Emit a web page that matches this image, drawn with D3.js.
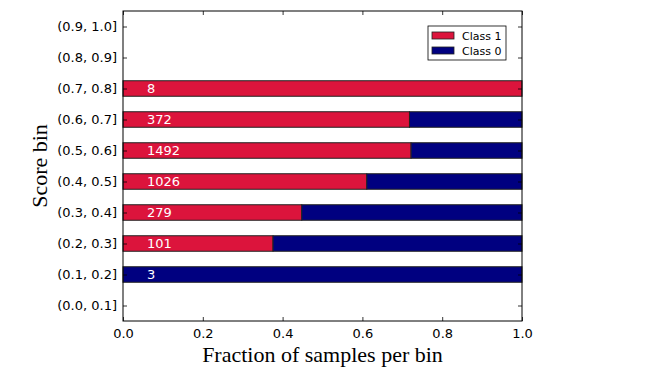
<!DOCTYPE html>
<html>
<head>
<meta charset="utf-8">
<script src="https://cdn.jsdelivr.net/npm/d3@7"></script>
<style>
    body { margin: 0; background: #fff; }
    svg { display: block; }
    .tick text { font-family: 'DejaVu Sans', sans-serif; font-size: 13px; fill: #000; }
    .axis-title { font-family: 'Liberation Serif', 'DejaVu Serif', serif; font-size: 22px; fill: #000; }
</style>
</head>
<body>
<svg id="chart" width="664" height="374"></svg>
<script>
// score bins, bottom to top
let bins = ['(0.0, 0.1]', '(0.1, 0.2]', '(0.2, 0.3]', '(0.3, 0.4]', '(0.4, 0.5]',
    '(0.5, 0.6]', '(0.6, 0.7]', '(0.7, 0.8]', '(0.8, 0.9]', '(0.9, 1.0]']
let class1Fraction = [0, 0, 0.376, 0.448, 0.611, 0.722, 0.718, 1.0, 0, 0]
let class0Fraction = [0, 1.0, 0.624, 0.552, 0.389, 0.278, 0.282, 0, 0, 0]
let counts = [0, 3, 101, 279, 1026, 1492, 372, 8, 0, 0]
let xTicks = [0, 0.2, 0.4, 0.6, 0.8, 1.0]

let chart = d3.select('#chart')
let plotLeft = 123
let plotRight = 522
let plotTop = 11
let plotBottom = 321
let red = '#dc143c'
let blue = '#000080'

let xScale = d3.scaleLinear().domain([0, 1]).range([plotLeft, plotRight])
let yScale = d3.scaleBand()
    .domain(bins.slice().reverse())
    .range([plotTop, plotBottom])
    .paddingInner(0.5)
    .paddingOuter(0.25)

// bars: class 1 first, class 0 stacked after
let rows = bins.map((b, i) => ({ bin: b, c1: class1Fraction[i], c0: class0Fraction[i], n: counts[i] }))
    .filter((d) => d.n > 0)

let barGroup = chart.append('g')
barGroup.selectAll('.c1')
    .data(rows.filter((d) => d.c1 > 0))
    .enter()
    .append('rect')
    .attr('x', xScale(0))
    .attr('y', (d) => yScale(d.bin))
    .attr('width', (d) => xScale(d.c1) - xScale(0))
    .attr('height', yScale.bandwidth())
    .attr('fill', red)
    .attr('stroke', '#222')
    .attr('stroke-width', 1)

barGroup.selectAll('.c0')
    .data(rows.filter((d) => d.c0 > 0))
    .enter()
    .append('rect')
    .attr('x', (d) => xScale(d.c1))
    .attr('y', (d) => yScale(d.bin))
    .attr('width', (d) => xScale(d.c1 + d.c0) - xScale(d.c1))
    .attr('height', yScale.bandwidth())
    .attr('fill', blue)
    .attr('stroke', '#222')
    .attr('stroke-width', 1)

// counts
barGroup.selectAll('text')
    .data(rows)
    .enter()
    .append('text')
    .attr('x', xScale(0.06))
    .attr('y', (d) => yScale(d.bin) + yScale.bandwidth() / 2)
    .attr('dy', '0.36em')
    .attr('fill', 'white')
    .style('font-family', "'DejaVu Sans', sans-serif")
    .style('font-size', '13px')
    .text((d) => d.n)

// axes with inward ticks
let axisBottom = d3.axisBottom(xScale).tickValues(xTicks).tickFormat(d3.format('.1f'))
    .tickSizeInner(-4).tickSizeOuter(0).tickPadding(8)
chart.append('g')
    .attr('transform', 'translate(0,' + plotBottom + ')')
    .call(axisBottom)
    .call((g) => g.select('.domain').remove())

chart.append('g')
    .attr('transform', 'translate(0,' + plotTop + ')')
    .call(d3.axisTop(xScale).tickValues(xTicks).tickFormat('').tickSizeInner(-4).tickSizeOuter(0))
    .call((g) => g.select('.domain').remove())

let yCenter = d3.scalePoint().domain(bins.slice().reverse()).range([plotTop + 15.5, plotBottom - 15.5])
chart.append('g')
    .attr('transform', 'translate(' + plotLeft + ',0)')
    .call(d3.axisLeft(yCenter).tickSizeInner(-4).tickSizeOuter(0).tickPadding(6))
    .call((g) => g.select('.domain').remove())

chart.append('g')
    .attr('transform', 'translate(' + plotRight + ',0)')
    .call(d3.axisRight(yCenter).tickFormat('').tickSizeInner(-4).tickSizeOuter(0))
    .call((g) => g.select('.domain').remove())

chart.selectAll('.tick line').attr('stroke', '#000').attr('stroke-width', 0.8)

// frame
chart.append('rect')
    .attr('x', plotLeft)
    .attr('y', plotTop)
    .attr('width', plotRight - plotLeft)
    .attr('height', plotBottom - plotTop)
    .attr('fill', 'none')
    .attr('stroke', '#000')
    .attr('stroke-width', 1)

// axis titles
chart.append('text')
    .attr('class', 'axis-title')
    .attr('x', (plotLeft + plotRight) / 2)
    .attr('y', 362)
    .attr('text-anchor', 'middle')
    .text('Fraction of samples per bin')

chart.append('text')
    .attr('class', 'axis-title')
    .attr('transform', 'translate(47,' + (plotTop + plotBottom) / 2 + ') rotate(-90)')
    .attr('text-anchor', 'middle')
    .text('Score bin')

// legend
let legend = chart.append('g').attr('transform', 'translate(428,26)')
legend.append('rect')
    .attr('width', 78).attr('height', 34)
    .attr('fill', 'white').attr('stroke', '#000').attr('stroke-width', 0.8)
let legendItems = [{ label: 'Class 1', color: red }, { label: 'Class 0', color: blue }]
let item = legend.selectAll('.item')
    .data(legendItems)
    .enter()
    .append('g')
    .attr('transform', (d, i) => 'translate(4,' + (6 + i * 15) + ')')
item.append('rect')
    .attr('width', 22).attr('height', 7)
    .attr('fill', (d) => d.color)
    .attr('stroke', '#222').attr('stroke-width', 0.8)
item.append('text')
    .attr('x', 30).attr('y', 4)
    .attr('dy', '0.36em')
    .style('font-family', "'DejaVu Sans', sans-serif")
    .style('font-size', '11px')
    .text((d) => d.label)
</script>
</body>
</html>
